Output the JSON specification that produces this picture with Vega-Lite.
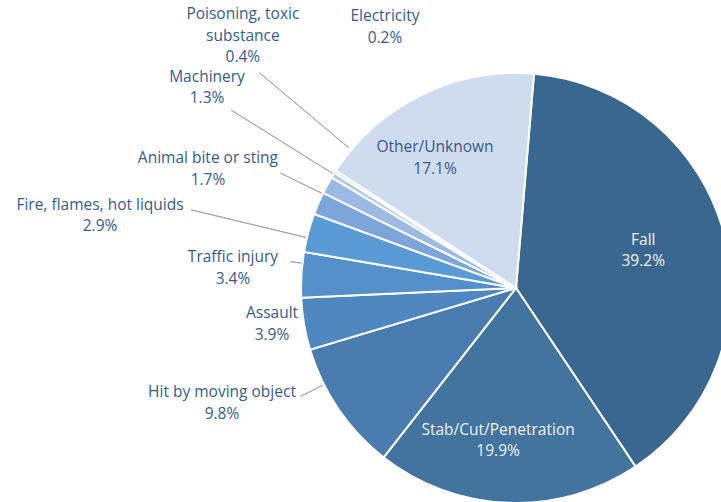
{
  "$schema": "https://vega.github.io/schema/vega-lite/v6.json",
  "width": 410,
  "height": 428,
  "autosize": {"type": "none"},
  "padding": {"left": 311, "top": 74, "right": 0, "bottom": 0},
  "background": "#ffffff",
  "config": {"view": {"stroke": null}},
  "data": {
    "values": [
      {"cause": "Fall", "pct": 39.2, "k": 1},
      {"cause": "Stab/Cut/Penetration", "pct": 19.9, "k": 2},
      {"cause": "Hit by moving object", "pct": 9.8, "k": 3},
      {"cause": "Assault", "pct": 3.9, "k": 4},
      {"cause": "Traffic injury", "pct": 3.4, "k": 5},
      {"cause": "Fire, flames, hot liquids", "pct": 2.9, "k": 6},
      {"cause": "Animal bite or sting", "pct": 1.7, "k": 7},
      {"cause": "Machinery", "pct": 1.3, "k": 8},
      {"cause": "Poisoning, toxic substance", "pct": 0.4, "k": 9},
      {"cause": "Electricity", "pct": 0.2, "k": 10},
      {"cause": "Other/Unknown", "pct": 17.1, "k": 11}
    ]
  },
  "transform": [
    {"calculate": "replace(datum.cause, 'toxic ', 'toxic\\n') + '\\n' + format(datum.pct, '.1f') + '%'", "as": "label"}
  ],
  "encoding": {
    "theta": {"field": "pct", "type": "quantitative", "stack": true, "scale": {"range": [0.0838, 6.367]}},
    "order": {"field": "k", "type": "quantitative"}
  },
  "layer": [
    {
      "mark": {"type": "arc", "radius": 215, "stroke": "#ffffff", "strokeWidth": 2},
      "encoding": {
        "color": {
          "field": "cause", "type": "nominal", "legend": null,
          "scale": {
            "domain": ["Fall", "Stab/Cut/Penetration", "Hit by moving object", "Assault", "Traffic injury", "Fire, flames, hot liquids", "Animal bite or sting", "Machinery", "Poisoning, toxic substance", "Electricity", "Other/Unknown"],
            "range": ["#3a678f", "#43739f", "#4a7cb0", "#4f88c0", "#5690ca", "#5b9bd5", "#7ca6da", "#9bbbe3", "#b0c9e9", "#bed2ec", "#cfdbee"]
          }
        }
      }
    },
    {
      "mark": {"type": "arc", "radius": 241, "radius2": 216, "padAngle": 3, "thetaOffset": 0.133, "theta2Offset": 0.133, "fillOpacity": 0, "stroke": "#a6a6a6", "strokeWidth": 1},
      "encoding": {"strokeOpacity": {"condition": {"test": "datum.cause === 'Hit by moving object'", "value": 1}, "value": 0}}
    },
    {
      "mark": {"type": "arc", "radius": 227, "radius2": 216, "padAngle": 3, "thetaOffset": 0.054, "theta2Offset": 0.054, "fillOpacity": 0, "stroke": "#a6a6a6", "strokeWidth": 1},
      "encoding": {"strokeOpacity": {"condition": {"test": "datum.cause === 'Traffic injury'", "value": 1}, "value": 0}}
    },
    {
      "mark": {"type": "arc", "radius": 334, "radius2": 216, "padAngle": 3, "thetaOffset": -0.024, "theta2Offset": -0.024, "fillOpacity": 0, "stroke": "#a6a6a6", "strokeWidth": 1},
      "encoding": {"strokeOpacity": {"condition": {"test": "datum.cause === 'Fire, flames, hot liquids'", "value": 1}, "value": 0}}
    },
    {
      "mark": {"type": "arc", "radius": 262, "radius2": 216, "padAngle": 3, "thetaOffset": 0.049, "theta2Offset": 0.049, "fillOpacity": 0, "stroke": "#a6a6a6", "strokeWidth": 1},
      "encoding": {"strokeOpacity": {"condition": {"test": "datum.cause === 'Animal bite or sting'", "value": 1}, "value": 0}}
    },
    {
      "mark": {"type": "arc", "radius": 336, "radius2": 216, "padAngle": 3, "thetaOffset": 0.059, "theta2Offset": 0.059, "fillOpacity": 0, "stroke": "#a6a6a6", "strokeWidth": 1},
      "encoding": {"strokeOpacity": {"condition": {"test": "datum.cause === 'Machinery'", "value": 1}, "value": 0}}
    },
    {
      "mark": {"type": "arc", "radius": 335, "radius2": 218, "padAngle": 3, "thetaOffset": 0.145, "theta2Offset": 0.145, "fillOpacity": 0, "stroke": "#a6a6a6", "strokeWidth": 1},
      "encoding": {"strokeOpacity": {"condition": {"test": "datum.cause === 'Poisoning, toxic substance'", "value": 1}, "value": 0}}
    },
    {
      "mark": {"type": "text", "radius": 136, "thetaOffset": -0.108, "lineBreak": "\n", "lineHeight": 21.5, "font": "Open Sans", "fontSize": 15.5, "fill": "#f2f2f2", "align": "center", "baseline": "middle"},
      "encoding": {"text": {"condition": {"test": "datum.cause === 'Fall'", "field": "label", "type": "nominal"}, "value": ""}}
    },
    {
      "mark": {"type": "text", "radius": 143, "thetaOffset": 0.089, "lineBreak": "\n", "lineHeight": 21.5, "font": "Open Sans", "fontSize": 15.5, "fill": "#f2f2f2", "align": "center", "baseline": "middle"},
      "encoding": {"text": {"condition": {"test": "datum.cause === 'Stab/Cut/Penetration'", "field": "label", "type": "nominal"}, "value": ""}}
    },
    {
      "mark": {"type": "text", "radius": 162.6, "thetaOffset": -0.067, "lineBreak": "\n", "lineHeight": 21.5, "font": "Open Sans", "fontSize": 15.5, "fill": "#375b86", "align": "center", "baseline": "middle"},
      "encoding": {"text": {"condition": {"test": "datum.cause === 'Other/Unknown'", "field": "label", "type": "nominal"}, "value": ""}}
    },
    {
      "mark": {"type": "text", "radius": 312, "thetaOffset": 0.258, "lineBreak": "\n", "lineHeight": 21.5, "font": "Open Sans", "fontSize": 15.5, "fill": "#375b86", "align": "center", "baseline": "middle"},
      "encoding": {"text": {"condition": {"test": "datum.cause === 'Hit by moving object'", "field": "label", "type": "nominal"}, "value": ""}}
    },
    {
      "mark": {"type": "text", "radius": 245.3, "thetaOffset": 0.065, "lineBreak": "\n", "lineHeight": 21.5, "font": "Open Sans", "fontSize": 15.5, "fill": "#375b86", "align": "center", "baseline": "middle"},
      "encoding": {"text": {"condition": {"test": "datum.cause === 'Assault'", "field": "label", "type": "nominal"}, "value": ""}}
    },
    {
      "mark": {"type": "text", "radius": 284.7, "thetaOffset": 0.047, "lineBreak": "\n", "lineHeight": 21.5, "font": "Open Sans", "fontSize": 15.5, "fill": "#375b86", "align": "center", "baseline": "middle"},
      "encoding": {"text": {"condition": {"test": "datum.cause === 'Traffic injury'", "field": "label", "type": "nominal"}, "value": ""}}
    },
    {
      "mark": {"type": "text", "radius": 424.2, "thetaOffset": -0.063, "lineBreak": "\n", "lineHeight": 21.5, "font": "Open Sans", "fontSize": 15.5, "fill": "#375b86", "align": "center", "baseline": "middle"},
      "encoding": {"text": {"condition": {"test": "datum.cause === 'Fire, flames, hot liquids'", "field": "label", "type": "nominal"}, "value": ""}}
    },
    {
      "mark": {"type": "text", "radius": 334.3, "thetaOffset": -0.006, "lineBreak": "\n", "lineHeight": 21.5, "font": "Open Sans", "fontSize": 15.5, "fill": "#375b86", "align": "center", "baseline": "middle"},
      "encoding": {"text": {"condition": {"test": "datum.cause === 'Animal bite or sting'", "field": "label", "type": "nominal"}, "value": ""}}
    },
    {
      "mark": {"type": "text", "radius": 374.2, "thetaOffset": 0.1, "lineBreak": "\n", "lineHeight": 21.5, "font": "Open Sans", "fontSize": 15.5, "fill": "#375b86", "align": "center", "baseline": "middle"},
      "encoding": {"text": {"condition": {"test": "datum.cause === 'Machinery'", "field": "label", "type": "nominal"}, "value": ""}}
    },
    {
      "mark": {"type": "text", "radius": 386.8, "thetaOffset": 0.234, "lineBreak": "\n", "lineHeight": 21.5, "font": "Open Sans", "fontSize": 15.5, "fill": "#375b86", "align": "center", "baseline": "middle"},
      "encoding": {"text": {"condition": {"test": "datum.cause === 'Poisoning, toxic substance'", "field": "label", "type": "nominal"}, "value": ""}}
    },
    {
      "mark": {"type": "text", "radius": 301.9, "thetaOffset": 0.55, "lineBreak": "\n", "lineHeight": 21.5, "font": "Open Sans", "fontSize": 15.5, "fill": "#375b86", "align": "center", "baseline": "middle"},
      "encoding": {"text": {"condition": {"test": "datum.cause === 'Electricity'", "field": "label", "type": "nominal"}, "value": ""}}
    }
  ]
}
